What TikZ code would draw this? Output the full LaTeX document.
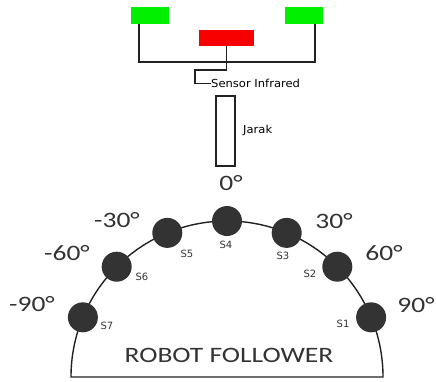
\documentclass[tikz,border=0pt]{standalone}
\usepackage{fontspec}
\setmainfont{Carlito}
\newfontfamily\smallf{DejaVu Sans}
\definecolor{sgreen}{HTML}{00F000}
\definecolor{sred}{HTML}{F80000}
\definecolor{dot}{HTML}{333333}
\definecolor{wire}{HTML}{222222}
\tikzset{
  wirel/.style={draw=wire, line width=1.4pt},
  gbox/.style={fill=sgreen, minimum width=38pt, minimum height=17pt, inner sep=0pt},
  rbox/.style={fill=sred, minimum width=55pt, minimum height=16pt, inner sep=0pt},
  sensor/.style={circle, fill=dot, minimum size=30pt, inner sep=0pt},
  slab/.style={font=\smallf\fontsize{10}{11}\selectfont, text=dot, inner sep=0pt},
  ang/.style={font=\fontsize{22}{24}\selectfont, text=dot, inner sep=0pt, xscale=1.25},
  small/.style={font=\smallf\fontsize{11}{12}\selectfont, text=black, inner sep=0pt, xscale=1.05},
}
\begin{document}
\begin{tikzpicture}[x=1pt, y=-1pt]
\useasboundingbox (0,0) rectangle (436,381);
% top boxes
\node[gbox] (g1) at (150,15.5) {};
\node[gbox] (g2) at (304,15.5) {};
\node[rbox] (r) at (226.5,38) {};
\node[small, anchor=west] (si) at (211,83.5) {Sensor Infrared};
\draw[wirel] ([xshift=-11pt]g1.south) |- (315,62) -- ([xshift=11pt]g2.south);
\draw[wirel] (r.south) |- (195,70) |- (si.west);
% Jarak
\node[draw=wire, line width=1.4pt, minimum width=19pt, minimum height=70pt, inner sep=0pt] (j) at (225.5,131) {};
\node[small, anchor=west] (jl) at (243,130) {Jarak};
% arc
\draw[wirel] (71,377) arc[start angle=180, end angle=0, radius=156pt] -- cycle;
% sensors
\foreach \i/\a in {1/22.5,2/45,3/67.5,4/90,5/112.5,6/135,7/157.5}{
  \node[sensor] (s\i) at ({227+156*cos(\a)},{377-156*sin(\a)}) {};
}
\node[slab] (l4) at (226,245) {S4};
\node[slab] (l3) at (283,256) {S3};
\node[slab] (l2) at (310,274) {S2};
\node[slab] (l1) at (343,324) {S1};
\node[slab] (l5) at (187,254) {S5};
\node[slab] (l6) at (142,277) {S6};
\node[slab] (l7) at (107,326) {S7};
% angle labels
\node[ang] (a0) at (231,183) {0°};
\node[ang] (a30) at (334,221) {30°};
\node[ang] (a60) at (384,253) {60°};
\node[ang] (a90) at (416,305) {90°};
\node[ang] (am30) at (117,220) {-30°};
\node[ang] (am60) at (67,253) {-60°};
\node[ang] (am90) at (32,304) {-90°};
\node[ang] (title) at (229,355) {ROBOT FOLLOWER};
\end{tikzpicture}
\end{document}
